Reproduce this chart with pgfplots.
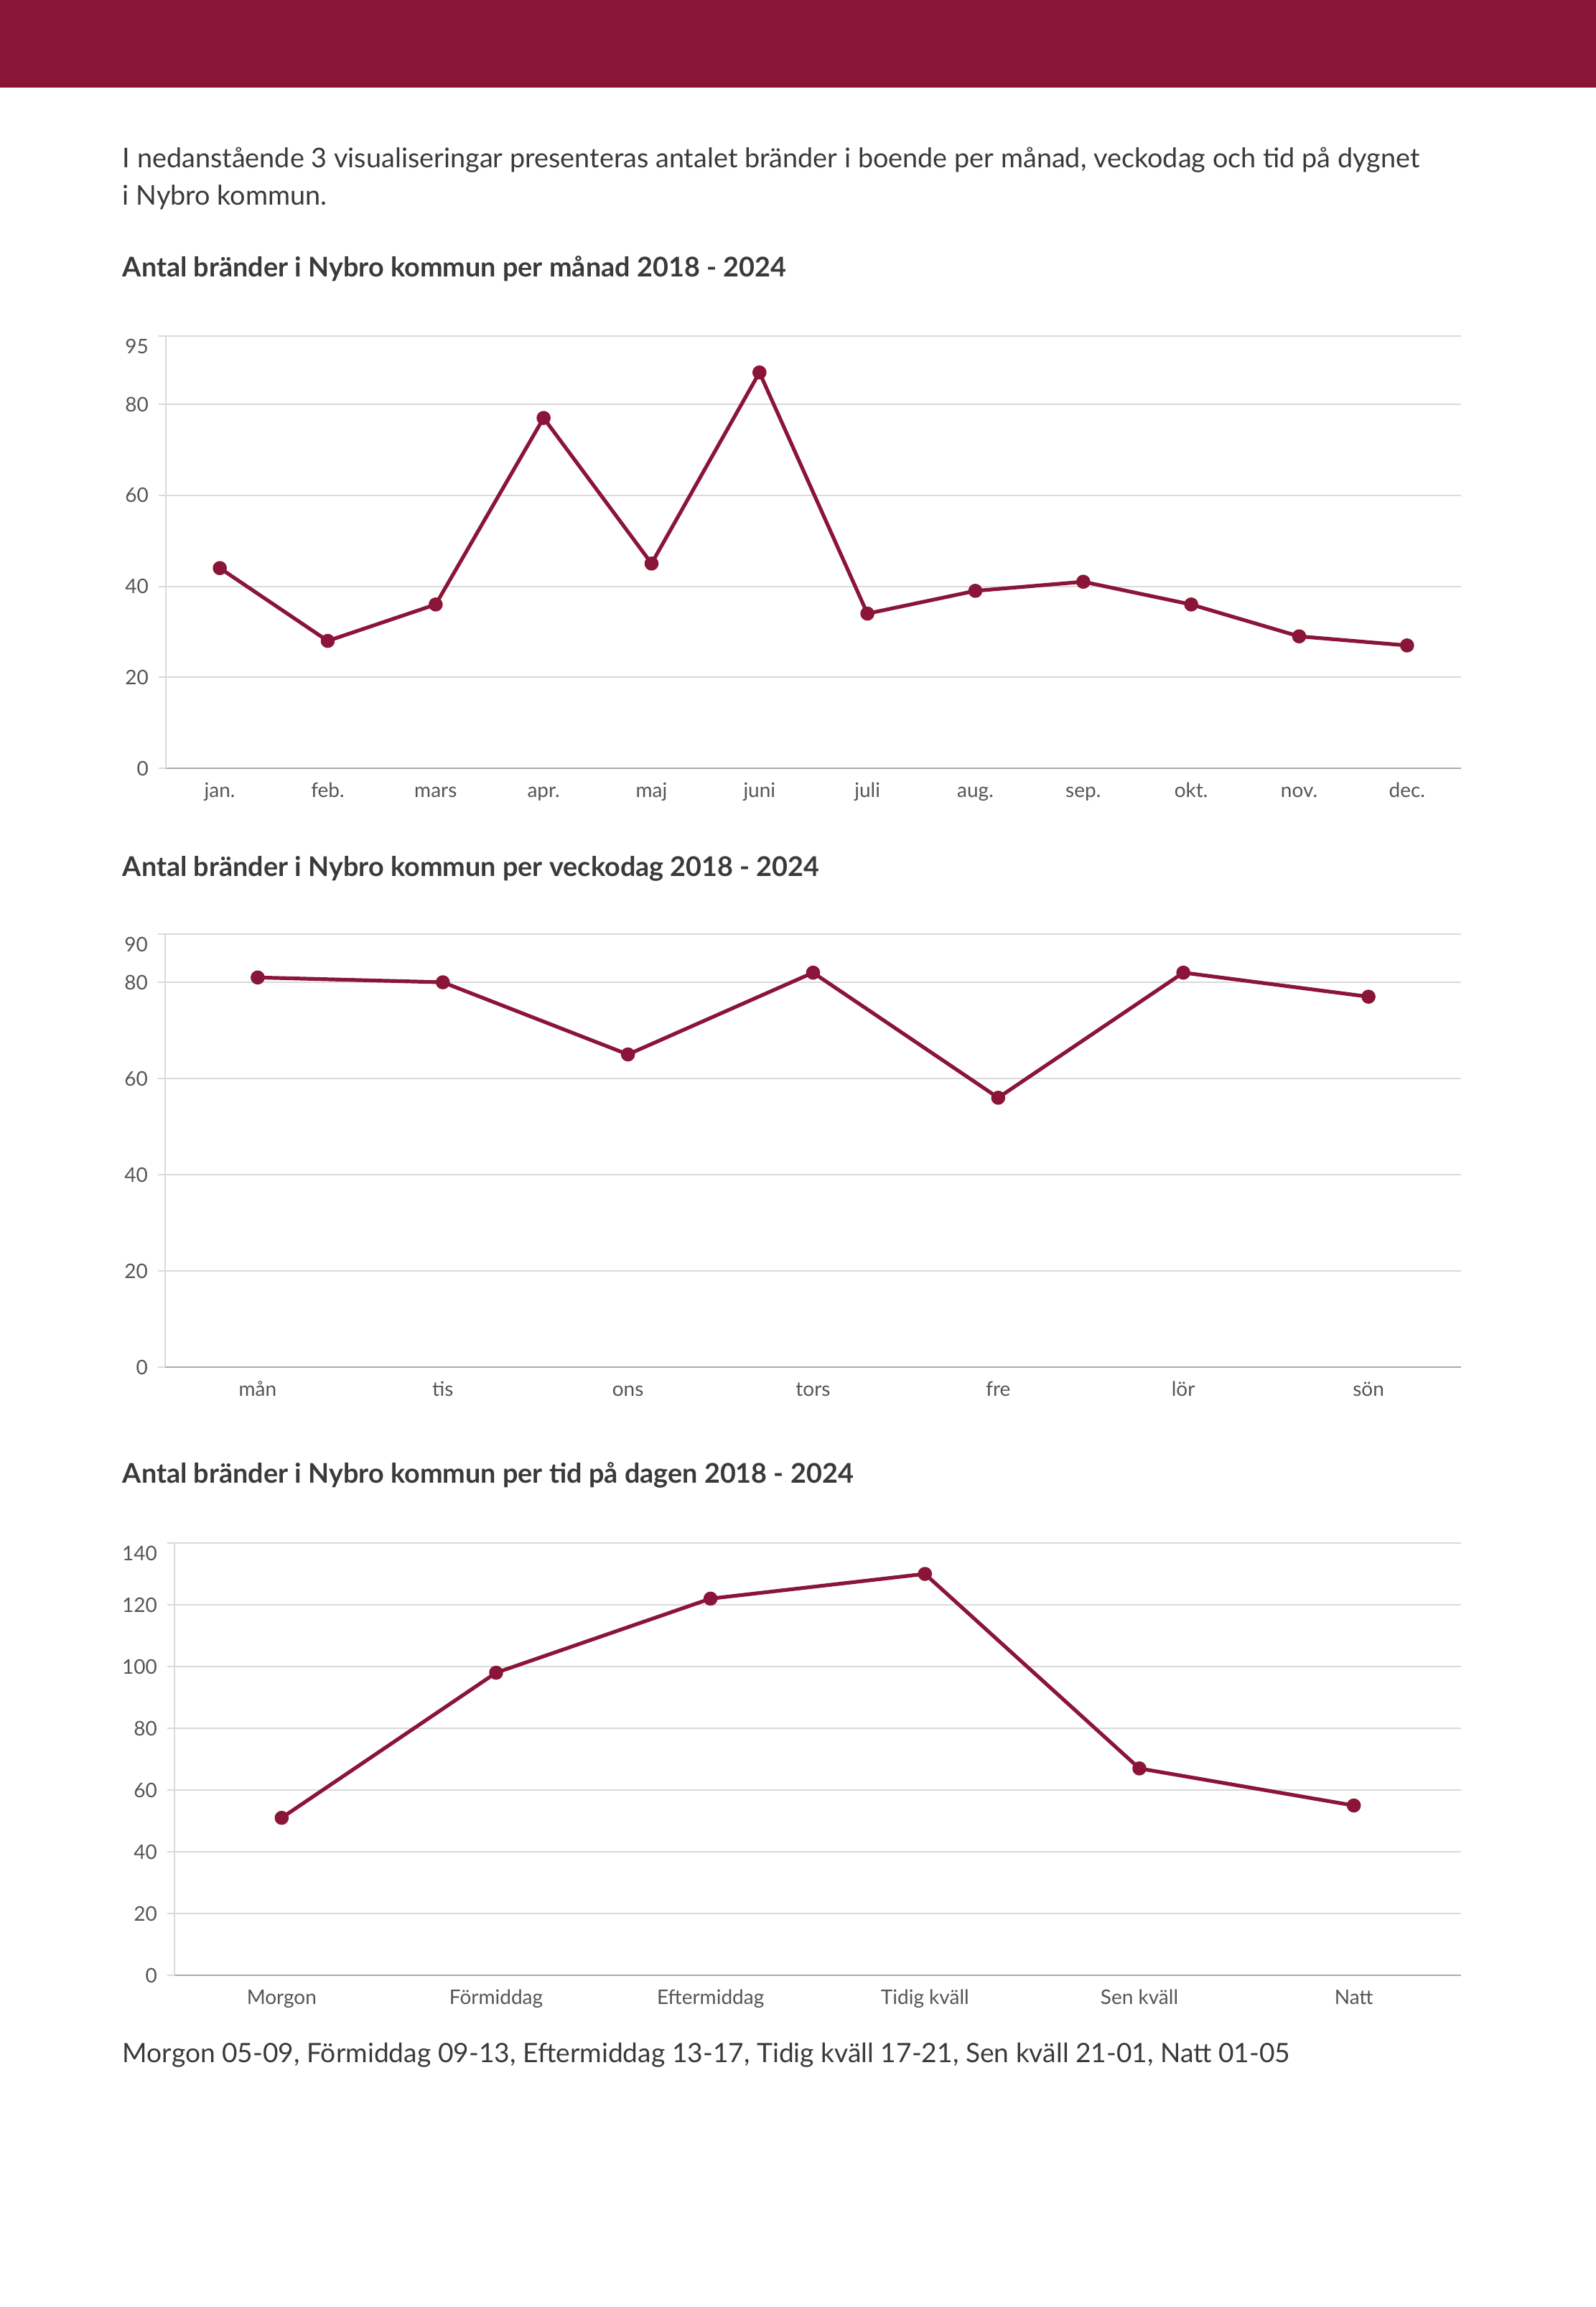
\documentclass[border=0pt]{standalone}
\usepackage{fontspec}
\setmainfont{Lato}
\usepackage{pgfplots}
\pgfplotsset{compat=1.18}

\definecolor{wine}{HTML}{8A1538}
\definecolor{txt}{HTML}{3A3A3A}
\definecolor{ticktxt}{HTML}{555555}
\definecolor{gridc}{HTML}{DADADA}
\definecolor{basec}{HTML}{ABABAB}

\pgfplotsset{
  nybro/.style={
    scale only axis,
    axis lines*=left,
    x axis line style={draw=basec, line width=0.6pt, -},
    y axis line style={draw=gridc, line width=0.5pt, -},
    ymajorgrids,
    grid style={draw=gridc, line width=0.5pt},
    tick align=outside,
    major tick length=2.5pt,
    ytick style={draw=gridc, line width=0.5pt},
    xtick style={draw=none},
    ymin=0,
    xtick=data,
    tick label style={font=\fontsize{7}{8}\selectfont, text=ticktxt},
    /pgf/number format/assume math mode=true,
    xticklabel style={anchor=base, yshift=-7.6pt},
    extra y tick style={grid=major, yticklabel style={yshift=-3.6pt}},
    clip=false,
  },
  wineline/.style={draw=wine, line width=1.3pt, line join=round,
    mark=*, mark size=1.8pt, mark options={fill=wine, draw=wine, solid}},
}

\begin{document}
\begin{tikzpicture}
  \path[use as bounding box] (0,0) rectangle (555.75pt,-803.25pt);
  \fill[wine] (0,0) rectangle (555.75pt,-30.5pt);

  \begin{scope}[every node/.style={anchor=base west, inner sep=0pt, text=txt}]
    \node[font=\fontsize{9.45}{11}\selectfont] at (42.5pt,-58.25pt)
      {I nedanstående 3 visualiseringar presenteras antalet bränder i boende per månad, veckodag och tid på dygnet};
    \node[font=\fontsize{9.45}{11}\selectfont] at (42.5pt,-71.25pt) {i Nybro kommun.};
    \node[font=\fontsize{9.45}{11}\selectfont\bfseries] at (42.5pt,-96.25pt)
      {Antal bränder i Nybro kommun per månad 2018 - 2024};
    \node[font=\fontsize{9.45}{11}\selectfont\bfseries] at (42.5pt,-305pt)
      {Antal bränder i Nybro kommun per veckodag 2018 - 2024};
    \node[font=\fontsize{9.45}{11}\selectfont\bfseries] at (42.5pt,-516.25pt)
      {Antal bränder i Nybro kommun per tid på dagen 2018 - 2024};
    \node[font=\fontsize{9.3}{11}\selectfont] at (42.5pt,-718pt)
      {Morgon 05-09, Förmiddag 09-13, Eftermiddag 13-17, Tidig kväll 17-21, Sen kväll 21-01, Natt 01-05};
  \end{scope}

  % per månad
  \begin{axis}[nybro, at={(57.75pt,-267.5pt)}, anchor=south west,
      width=451pt, height=150.5pt,
      xmin=-0.5, xmax=11.5, ymax=95,
      ytick={0,20,40,60,80}, extra y ticks={95},
      xticklabels={jan.,feb.,mars,apr.,maj,juni,juli,aug.,sep.,okt.,nov.,dec.}]
    \addplot[wineline] coordinates {(0,44) (1,28) (2,36) (3,77) (4,45) (5,87)
      (6,34) (7,39) (8,41) (9,36) (10,29) (11,27)};
  \end{axis}

  % per veckodag
  \begin{axis}[nybro, at={(57.5pt,-476pt)}, anchor=south west,
      width=451.25pt, height=150.75pt,
      xmin=-0.5, xmax=6.5, ymax=90,
      ytick={0,20,40,60,80}, extra y ticks={90},
      xticklabels={mån,tis,ons,tors,fre,lör,sön}]
    \addplot[wineline] coordinates {(0,81) (1,80) (2,65) (3,82) (4,56) (5,82) (6,77)};
  \end{axis}

  % per tid på dagen
  \begin{axis}[nybro, at={(60.75pt,-687.75pt)}, anchor=south west,
      width=448pt, height=150.5pt,
      xmin=-0.5, xmax=5.5, ymax=140,
      ytick={0,20,40,60,80,100,120}, extra y ticks={140},
      xticklabels={Morgon,Förmiddag,Eftermiddag,Tidig kväll,Sen kväll,Natt}]
    \addplot[wineline] coordinates {(0,51) (1,98) (2,122) (3,130) (4,67) (5,55)};
  \end{axis}
\end{tikzpicture}
\end{document}
